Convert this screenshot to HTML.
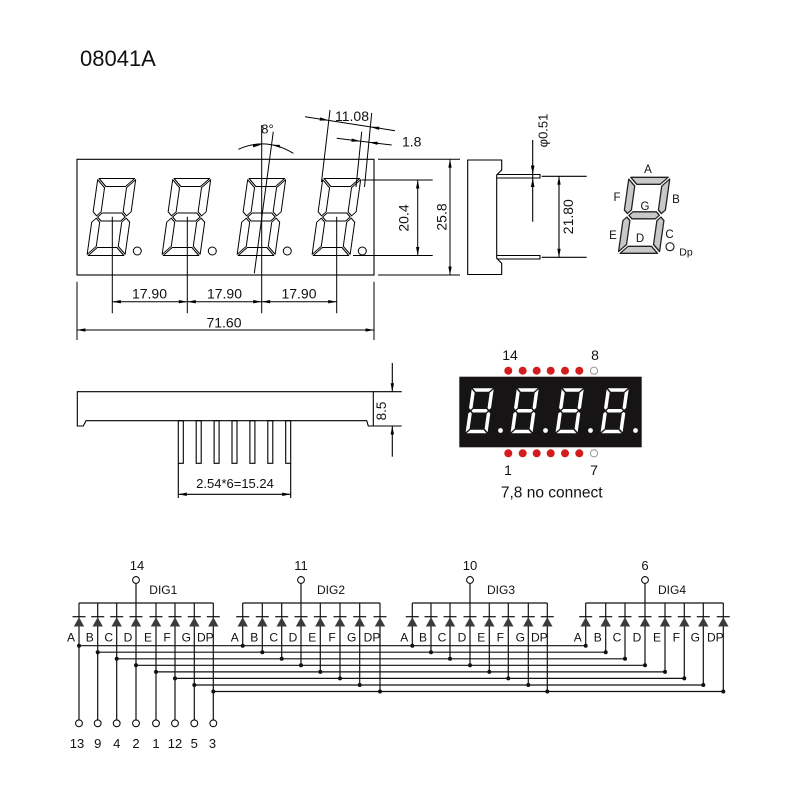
<!DOCTYPE html>
<html><head><meta charset="utf-8"><style>
html,body{margin:0;padding:0;background:#fff;width:800px;height:800px;overflow:hidden}
svg{display:block}
text{font-family:"Liberation Sans",Arial,sans-serif;fill:#111}
.n{font-family:"Liberation Sans Narrow","Liberation Sans",sans-serif}
</style></head><body>
<svg width="800" height="800" viewBox="0 0 800 800" xmlns="http://www.w3.org/2000/svg">
<defs>
<marker id="ar" viewBox="0 0 10 4" refX="10" refY="2" markerWidth="9" markerHeight="3.4" markerUnits="userSpaceOnUse" orient="auto-start-reverse"><path d="M0,0 L10,2 L0,4 z" fill="#000"/></marker>
<g id="fd" transform="skewX(-8) translate(0,-77)" fill="none" stroke="#000" stroke-width="1" stroke-linejoin="round">
<polygon points="1.2,0 36.8,0 28.8,8 9.2,8"/>
<polygon points="5.2,38.5 9.2,34.5 28.8,34.5 32.8,38.5 28.8,42.5 9.2,42.5"/>
<polygon points="9.2,69 28.8,69 36.8,77 1.2,77"/>
<polygon points="0,1.2 8,9.2 8,33.3 4,37.3 0,33.3"/>
<polygon points="4,39.7 8,43.7 8,67.8 0,75.8 0,43.7"/>
<polygon points="38,1.2 38,33.3 34,37.3 30,33.3 30,9.2"/>
<polygon points="34,39.7 38,43.7 38,75.8 30,67.8 30,43.7"/>
</g>
<g id="pd" transform="skewX(-8) translate(0,-45)" fill="#fff">
<polygon points="1,0 21,0 17.5,3.5 4.5,3.5"/>
<polygon points="2.75,22.5 4.5,20.75 17.5,20.75 19.25,22.5 17.5,24.25 4.5,24.25"/>
<polygon points="4.5,41.5 17.5,41.5 21,45 1,45"/>
<polygon points="0,1 3.5,4.5 3.5,19.75 1.75,21.5 0,19.75"/>
<polygon points="1.75,23.5 3.5,25.25 3.5,40.5 0,44 0,25.25"/>
<polygon points="22,1 22,19.75 20.25,21.5 18.5,19.75 18.5,4.5"/>
<polygon points="20.25,23.5 22,25.25 22,44 18.5,40.5 18.5,25.25"/>
</g>
<g id="sd" transform="skewX(-8) translate(0,-76)" fill="#c8c8c8" stroke="#222" stroke-width="1.3" stroke-linejoin="round">
<polygon points="1.8,0 39.2,0 32.2,7 8.8,7"/>
<polygon points="5.3,38 8.8,34.5 32.2,34.5 35.7,38 32.2,41.5 8.8,41.5"/>
<polygon points="8.8,69 32.2,69 39.2,76 1.8,76"/>
<polygon points="0,1.8 7,8.8 7,32.7 3.5,36.2 0,32.7"/>
<polygon points="3.5,39.8 7,43.3 7,67.2 0,74.2 0,43.3"/>
<polygon points="41,1.8 41,32.7 37.5,36.2 34,32.7 34,8.8"/>
<polygon points="37.5,39.8 41,43.3 41,74.2 34,67.2 34,43.3"/>
</g>
<g id="dio"><line x1="-6.5" y1="0" x2="6.5" y2="0" stroke="#111" stroke-width="1.2"/><polygon points="0,0.6 -5.2,9.8 5.2,9.8" fill="#3c3c3c"/></g>
</defs>

<!-- Title -->
<text x="80" y="66" font-size="22">08041A</text>

<!-- FRONT VIEW -->
<g stroke="#000" stroke-width="1.1" fill="none">
<rect x="77" y="159.3" width="297" height="115.7"/>
</g>
<use href="#fd" x="87" y="255.5"/>
<use href="#fd" x="162" y="255.5"/>
<use href="#fd" x="237" y="255.5"/>
<use href="#fd" x="312" y="255.5"/>
<g fill="none" stroke="#000" stroke-width="1">
<circle cx="137.3" cy="251" r="4"/>
<circle cx="212.3" cy="251" r="4"/>
<circle cx="287.3" cy="251" r="4"/>
<circle cx="362.3" cy="251" r="4"/>
<path d="M112.3 216.7V313.3 M187.3 216.7V313.3 M261.7 125V313.3 M336.7 216.7V313.3"/>
<path d="M273.3 131.7L254.3 273.3"/>
<path d="M238.3 149.3 Q266.2 136.7 293.3 153.3"/>
<line x1="112.3" y1="301.7" x2="187.3" y2="301.7" marker-start="url(#ar)" marker-end="url(#ar)"/>
<line x1="187.3" y1="301.7" x2="261.7" y2="301.7" marker-start="url(#ar)" marker-end="url(#ar)"/>
<line x1="261.7" y1="301.7" x2="336.7" y2="301.7" marker-start="url(#ar)" marker-end="url(#ar)"/>
<path d="M77 281.7V340 M374 281.7V340"/>
<line x1="77" y1="330" x2="374" y2="330" marker-start="url(#ar)" marker-end="url(#ar)"/>
<path d="M330 110L321.5 182 M371.7 113L364.5 187 M361.7 131.7L356 187"/>
<path d="M305 116.7L395 130.7 M336.7 138.3L391.7 145"/>
<path d="M378 159.3H460 M378 275H460 M361.7 180H432.7 M353 255.5H432.7"/>
<line x1="417.7" y1="180" x2="417.7" y2="255.5" marker-start="url(#ar)" marker-end="url(#ar)"/>
<line x1="450" y1="159.3" x2="450" y2="275" marker-start="url(#ar)" marker-end="url(#ar)"/>
</g>
<g fill="#000">
<polygon points="328.8,120.4 320.15,117.42 319.65,120.58"/>
<polygon points="370.3,126.9 379.45,126.72 378.95,129.88"/>
<polygon points="360.55,141.2 351.8,138.5 351.4,141.7"/>
<polygon points="368.7,142.2 377.8,141.7 377.4,144.9"/>
<polygon points="261.7,144.5 253.2,147.4 252.8,144.4"/>
<polygon points="271.5,144.7 279.7,144.9 280.3,147.9"/>
</g>
<text x="267.5" y="129" font-size="13" text-anchor="middle" dominant-baseline="central">8°</text>
<text x="352" y="116" font-size="14" text-anchor="middle" dominant-baseline="central">11.08</text>
<text x="411.7" y="141.7" font-size="14" text-anchor="middle" dominant-baseline="central">1.8</text>
<text x="149.5" y="293.3" font-size="14" text-anchor="middle" dominant-baseline="central">17.90</text>
<text x="224.5" y="293.3" font-size="14" text-anchor="middle" dominant-baseline="central">17.90</text>
<text x="299" y="293.3" font-size="14" text-anchor="middle" dominant-baseline="central">17.90</text>
<text x="224" y="322.7" font-size="14" text-anchor="middle" dominant-baseline="central">71.60</text>
<text transform="translate(403.3,218) rotate(-90)" font-size="14" text-anchor="middle" dominant-baseline="central">20.4</text>
<text transform="translate(441.7,217) rotate(-90)" font-size="14" text-anchor="middle" dominant-baseline="central">25.8</text>

<!-- SIDE VIEW -->
<g fill="none" stroke="#000" stroke-width="1.1">
<path d="M467.7 160H501.7V170L496.7 175V258.3L501.7 263.3V274.5H467.7Z"/>
<path d="M496.7 174.5H540V178H496.7 M496.7 255.5H540V259H496.7"/>
<path d="M541.7 176.3H586.7 M541.7 257.3H586.7"/>
<line x1="559" y1="176.3" x2="559" y2="257.3" marker-start="url(#ar)" marker-end="url(#ar)"/>
<path d="M532.7 140V221.7"/>
</g>
<g fill="#000">
<polygon points="532.7,174.5 530.9,165.5 534.5,165.5"/>
<polygon points="532.7,178 530.9,187 534.5,187"/>
</g>
<text transform="translate(568,216.7) rotate(-90)" font-size="14" text-anchor="middle" dominant-baseline="central">21.80</text>
<text transform="translate(543,130.5) rotate(-90)" font-size="13" text-anchor="middle" dominant-baseline="central">φ0.51</text>

<!-- SEGMENT KEY -->
<use href="#sd" x="618.3" y="253.3"/>
<circle cx="670" cy="246.7" r="4" fill="none" stroke="#222" stroke-width="1.2"/>
<g font-size="11.5" text-anchor="middle">
<text x="648" y="170" dominant-baseline="central">A</text>
<text x="676" y="200" dominant-baseline="central">B</text>
<text x="617" y="198" dominant-baseline="central">F</text>
<text x="645" y="207" dominant-baseline="central">G</text>
<text x="613" y="236" dominant-baseline="central">E</text>
<text x="640" y="239" dominant-baseline="central">D</text>
<text x="669.5" y="235" dominant-baseline="central">C</text>
<text x="686" y="252.7" font-size="10.5" dominant-baseline="central">Dp</text>
</g>

<!-- BOTTOM VIEW -->
<g fill="none" stroke="#000" stroke-width="1.1">
<path d="M77.3 391.7H373.3V426H368.3L366.7 420.7H86L83.3 426H77.3Z"/>
<rect x="178.3" y="420.7" width="5" height="42.6"/>
<rect x="196.2" y="420.7" width="5" height="42.6"/>
<rect x="214.1" y="420.7" width="5" height="42.6"/>
<rect x="232" y="420.7" width="5" height="42.6"/>
<rect x="249.9" y="420.7" width="5" height="42.6"/>
<rect x="267.8" y="420.7" width="5" height="42.6"/>
<rect x="285.7" y="420.7" width="5" height="42.6"/>
<path d="M178.3 463.3V498 M290.7 463.3V498"/>
<line x1="178.3" y1="494.3" x2="290.7" y2="494.3" marker-start="url(#ar)" marker-end="url(#ar)"/>
<path d="M373.3 391.7H401.7 M373.3 426H401.7"/>
<line x1="392.3" y1="363" x2="392.3" y2="391.7" marker-end="url(#ar)"/>
<line x1="392.3" y1="456.7" x2="392.3" y2="426" marker-end="url(#ar)"/>
</g>
<text x="235" y="483.3" font-size="13" text-anchor="middle" dominant-baseline="central">2.54*6=15.24</text>
<text transform="translate(381.7,411) rotate(-90)" font-size="13.5" text-anchor="middle" dominant-baseline="central">8.5</text>

<!-- PHOTO -->
<rect x="459.3" y="376.7" width="182.4" height="70.6" fill="#161414"/>
<use href="#pd" x="465.5" y="433.3"/>
<use href="#pd" x="510.5" y="433.3"/>
<use href="#pd" x="555.5" y="433.3"/>
<use href="#pd" x="600.5" y="433.3"/>
<g fill="#fff">
<circle cx="500.5" cy="430.5" r="2.4"/>
<circle cx="545.5" cy="430.5" r="2.4"/>
<circle cx="590.5" cy="430.5" r="2.4"/>
<circle cx="635.5" cy="430.5" r="2.4"/>
</g>
<g fill="#d41c1c">
<circle cx="508.3" cy="370.7" r="4"/><circle cx="522.7" cy="370.7" r="4"/><circle cx="536.7" cy="370.7" r="4"/>
<circle cx="550.7" cy="370.7" r="4"/><circle cx="565" cy="370.7" r="4"/><circle cx="579.3" cy="370.7" r="4"/>
<circle cx="508.3" cy="453.3" r="4"/><circle cx="522.7" cy="453.3" r="4"/><circle cx="536.7" cy="453.3" r="4"/>
<circle cx="550.7" cy="453.3" r="4"/><circle cx="565" cy="453.3" r="4"/><circle cx="579.3" cy="453.3" r="4"/>
</g>
<circle cx="594" cy="370.7" r="3.6" fill="#fff" stroke="#999" stroke-width="1"/>
<circle cx="594" cy="453.3" r="3.6" fill="#fff" stroke="#999" stroke-width="1"/>
<g font-size="14" text-anchor="middle">
<text x="510" y="355" dominant-baseline="central">14</text>
<text x="595" y="355" dominant-baseline="central">8</text>
<text x="508" y="470" dominant-baseline="central">1</text>
<text x="594" y="470" dominant-baseline="central">7</text>
</g>
<text x="551.7" y="493" font-size="15.5" text-anchor="middle" dominant-baseline="central">7,8 no connect</text>

<!-- SCHEMATIC -->
<g fill="none" stroke="#111" stroke-width="1.2">
<path d="M79 603V719.8 M97.7 603V719.8 M116.7 603V719.8 M136 603V719.8 M156 603V719.8 M175 603V719.8 M194.3 603V719.8 M213.3 603V719.8 M79 603H213.3 M136 583.3V603"/>
<path d="M242.7 603V645.7 M262.3 603V652.2 M281.7 603V658.8 M301 603V665.3 M320.3 603V671.9 M340 603V678.4 M359.7 603V685 M380 603V691.5 M242.7 603H380 M301 583.3V603"/>
<path d="M412.3 603V645.7 M431 603V652.2 M450 603V658.8 M470 603V665.3 M489.3 603V671.9 M508.3 603V678.4 M528.3 603V685 M547.3 603V691.5 M412.3 603H547.3 M470 583.3V603"/>
<path d="M585.7 603V645.7 M605.7 603V652.2 M625 603V658.8 M645 603V665.3 M665 603V671.9 M684.3 603V678.4 M703.3 603V685 M723.3 603V691.5 M585.7 603H723.3 M645 583.3V603"/>
<path d="M79 645.7H585.7 M97.7 652.2H605.7 M116.7 658.8H625 M136 665.3H645 M156 671.9H665 M175 678.4H684.3 M194.3 685H703.3 M213.3 691.5H723.3"/>
</g>
<g fill="#fff" stroke="#111" stroke-width="1.1">
<circle cx="136" cy="580" r="3.4"/><circle cx="301" cy="580" r="3.4"/><circle cx="470" cy="580" r="3.4"/><circle cx="645" cy="580" r="3.4"/>
<circle cx="79" cy="723.3" r="3.4"/><circle cx="97.7" cy="723.3" r="3.4"/><circle cx="116.7" cy="723.3" r="3.4"/><circle cx="136" cy="723.3" r="3.4"/>
<circle cx="156" cy="723.3" r="3.4"/><circle cx="175" cy="723.3" r="3.4"/><circle cx="194.3" cy="723.3" r="3.4"/><circle cx="213.3" cy="723.3" r="3.4"/>
</g>
<g fill="#111">
<circle cx="79" cy="645.7" r="2"/><circle cx="97.7" cy="652.2" r="2"/><circle cx="116.7" cy="658.8" r="2"/><circle cx="136" cy="665.3" r="2"/>
<circle cx="156" cy="671.9" r="2"/><circle cx="175" cy="678.4" r="2"/><circle cx="194.3" cy="685" r="2"/><circle cx="213.3" cy="691.5" r="2"/>
<circle cx="242.7" cy="645.7" r="2"/><circle cx="262.3" cy="652.2" r="2"/><circle cx="281.7" cy="658.8" r="2"/><circle cx="301" cy="665.3" r="2"/>
<circle cx="320.3" cy="671.9" r="2"/><circle cx="340" cy="678.4" r="2"/><circle cx="359.7" cy="685" r="2"/><circle cx="380" cy="691.5" r="2"/>
<circle cx="412.3" cy="645.7" r="2"/><circle cx="431" cy="652.2" r="2"/><circle cx="450" cy="658.8" r="2"/><circle cx="470" cy="665.3" r="2"/>
<circle cx="489.3" cy="671.9" r="2"/><circle cx="508.3" cy="678.4" r="2"/><circle cx="528.3" cy="685" r="2"/><circle cx="547.3" cy="691.5" r="2"/>
<circle cx="585.7" cy="645.7" r="2"/><circle cx="605.7" cy="652.2" r="2"/><circle cx="625" cy="658.8" r="2"/><circle cx="645" cy="665.3" r="2"/>
<circle cx="665" cy="671.9" r="2"/><circle cx="684.3" cy="678.4" r="2"/><circle cx="703.3" cy="685" r="2"/><circle cx="723.3" cy="691.5" r="2"/>
</g>
<g>
<use href="#dio" x="79" y="616.7"/><use href="#dio" x="97.7" y="616.7"/><use href="#dio" x="116.7" y="616.7"/><use href="#dio" x="136" y="616.7"/>
<use href="#dio" x="156" y="616.7"/><use href="#dio" x="175" y="616.7"/><use href="#dio" x="194.3" y="616.7"/><use href="#dio" x="213.3" y="616.7"/>
<use href="#dio" x="242.7" y="616.7"/><use href="#dio" x="262.3" y="616.7"/><use href="#dio" x="281.7" y="616.7"/><use href="#dio" x="301" y="616.7"/>
<use href="#dio" x="320.3" y="616.7"/><use href="#dio" x="340" y="616.7"/><use href="#dio" x="359.7" y="616.7"/><use href="#dio" x="380" y="616.7"/>
<use href="#dio" x="412.3" y="616.7"/><use href="#dio" x="431" y="616.7"/><use href="#dio" x="450" y="616.7"/><use href="#dio" x="470" y="616.7"/>
<use href="#dio" x="489.3" y="616.7"/><use href="#dio" x="508.3" y="616.7"/><use href="#dio" x="528.3" y="616.7"/><use href="#dio" x="547.3" y="616.7"/>
<use href="#dio" x="585.7" y="616.7"/><use href="#dio" x="605.7" y="616.7"/><use href="#dio" x="625" y="616.7"/><use href="#dio" x="645" y="616.7"/>
<use href="#dio" x="665" y="616.7"/><use href="#dio" x="684.3" y="616.7"/><use href="#dio" x="703.3" y="616.7"/><use href="#dio" x="723.3" y="616.7"/>
</g>
<g class="n" font-size="12" text-anchor="middle">
<text class="n" x="71" y="637.5" dominant-baseline="central">A</text><text class="n" x="89.7" y="637.5" dominant-baseline="central">B</text><text class="n" x="108.7" y="637.5" dominant-baseline="central">C</text><text class="n" x="128" y="637.5" dominant-baseline="central">D</text>
<text class="n" x="148" y="637.5" dominant-baseline="central">E</text><text class="n" x="167" y="637.5" dominant-baseline="central">F</text><text class="n" x="186.3" y="637.5" dominant-baseline="central">G</text><text class="n" x="205.3" y="637.5" dominant-baseline="central">DP</text>
<text class="n" x="234.7" y="637.5" dominant-baseline="central">A</text><text class="n" x="254.3" y="637.5" dominant-baseline="central">B</text><text class="n" x="273.7" y="637.5" dominant-baseline="central">C</text><text class="n" x="293" y="637.5" dominant-baseline="central">D</text>
<text class="n" x="312.3" y="637.5" dominant-baseline="central">E</text><text class="n" x="332" y="637.5" dominant-baseline="central">F</text><text class="n" x="351.7" y="637.5" dominant-baseline="central">G</text><text class="n" x="372" y="637.5" dominant-baseline="central">DP</text>
<text class="n" x="404.3" y="637.5" dominant-baseline="central">A</text><text class="n" x="423" y="637.5" dominant-baseline="central">B</text><text class="n" x="442" y="637.5" dominant-baseline="central">C</text><text class="n" x="462" y="637.5" dominant-baseline="central">D</text>
<text class="n" x="481.3" y="637.5" dominant-baseline="central">E</text><text class="n" x="500.3" y="637.5" dominant-baseline="central">F</text><text class="n" x="520.3" y="637.5" dominant-baseline="central">G</text><text class="n" x="539.3" y="637.5" dominant-baseline="central">DP</text>
<text class="n" x="577.7" y="637.5" dominant-baseline="central">A</text><text class="n" x="597.7" y="637.5" dominant-baseline="central">B</text><text class="n" x="617" y="637.5" dominant-baseline="central">C</text><text class="n" x="637" y="637.5" dominant-baseline="central">D</text>
<text class="n" x="657" y="637.5" dominant-baseline="central">E</text><text class="n" x="676.3" y="637.5" dominant-baseline="central">F</text><text class="n" x="695.3" y="637.5" dominant-baseline="central">G</text><text class="n" x="715.3" y="637.5" dominant-baseline="central">DP</text>
<text class="n" x="163.3" y="590" dominant-baseline="central">DIG1</text>
<text class="n" x="331" y="590" dominant-baseline="central">DIG2</text>
<text class="n" x="501" y="590" dominant-baseline="central">DIG3</text>
<text class="n" x="672" y="590" dominant-baseline="central">DIG4</text>
</g>
<g font-size="13" text-anchor="middle">
<text x="137" y="565.5" dominant-baseline="central">14</text>
<text x="301" y="565.5" dominant-baseline="central">11</text>
<text x="470" y="565.5" dominant-baseline="central">10</text>
<text x="645" y="565.5" dominant-baseline="central">6</text>
<text x="77" y="743.5" dominant-baseline="central">13</text>
<text x="97.7" y="743.5" dominant-baseline="central">9</text>
<text x="116.7" y="743.5" dominant-baseline="central">4</text>
<text x="136" y="743.5" dominant-baseline="central">2</text>
<text x="156" y="743.5" dominant-baseline="central">1</text>
<text x="175" y="743.5" dominant-baseline="central">12</text>
<text x="194.3" y="743.5" dominant-baseline="central">5</text>
<text x="212.5" y="743.5" dominant-baseline="central">3</text>
</g>
</svg>
</body></html>
